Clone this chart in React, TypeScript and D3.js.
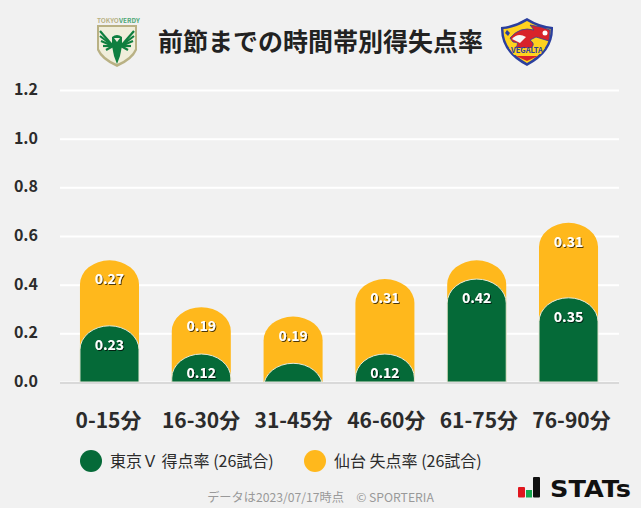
import React, { useEffect, useRef } from 'react';
import { scaleBand, scaleLinear, scalePoint, select, axisLeft, axisBottom } from 'd3';

const categories = ['0-15分', '16-30分', '31-45分', '46-60分', '61-75分', '76-90分'];
const scored = [0.231, 0.115, 0.077, 0.115, 0.423, 0.346];
const conceded = [0.269, 0.192, 0.192, 0.308, 0.077, 0.308];
const yTicks = [0, 0.2, 0.4, 0.6, 0.8, 1.0, 1.2];
const legendLabels = ['東京Ｖ 得点率 (26試合)', '仙台 失点率 (26試合)'];
const title = '前節までの時間帯別得失点率';
const footer = 'データは2023/07/17時点　© SPORTERIA';

const GREEN = '#056a38';
const YELLOW = '#ffb81c';
const BG = '#f1f1f1';
const FONT = '"Noto Sans CJK JP", "Noto Sans", sans-serif';
const W = 641;
const H = 508;
const RY = 24;
const MIN_LABEL = 0.1; // the 0.08 segments carry no label

const App = () => {
  const ref = useRef<SVGSVGElement>(null);

  useEffect(() => {
    const svg = select(ref.current);
    svg.selectAll('*').remove();

    const x = scaleBand<string>().domain(categories).range([60, 618]).paddingInner(0.357).paddingOuter(0.2175);
    // the axis labels sit on a slightly wider pitch than the bars
    const xLabels = scalePoint<string>().domain(categories).range([108, 571]);
    const y = scaleLinear().domain([0, 1.2]).range([382, 90]);
    const bw = x.bandwidth();

    svg.append('rect').attr('width', W).attr('height', H).attr('fill', BG);

    const defs = svg.append('defs');
    defs.append('clipPath').attr('id', 'plot-clip')
      .append('rect').attr('x', 0).attr('y', 0).attr('width', W).attr('height', y(0));
    const shadow = defs.append('filter').attr('id', 'label-shadow').attr('x', '-20%').attr('y', '-20%').attr('width', '140%').attr('height', '140%');
    shadow.append('feDropShadow').attr('dx', 1).attr('dy', 1).attr('stdDeviation', 0.3).attr('flood-color', '#000').attr('flood-opacity', 0.7);

    // grid + y axis
    const yAxis = svg.append('g').attr('transform', 'translate(60,0)')
      .call(axisLeft(y).tickValues(yTicks).tickSize(-559).tickPadding(22).tickFormat((d) => Number(d).toFixed(1)));
    yAxis.select('.domain').remove();
    yAxis.selectAll('line').attr('stroke', '#ffffff').attr('stroke-width', 2);
    yAxis.selectAll('text').attr('fill', '#2b2b2b').attr('font-family', FONT).attr('font-weight', 700).attr('font-size', 16)
      .attr('transform', 'translate(0,-0.5)');

    // baseline + x axis
    const xAxis = svg.append('g').attr('transform', `translate(0,${y(0) + 1})`)
      .call(axisBottom(xLabels).tickSize(0).tickPadding(30));
    xAxis.select('.domain').remove();
    xAxis.selectAll('text').attr('fill', '#2b2b2b').attr('font-family', FONT).attr('font-weight', 700).attr('font-size', 21);
    svg.append('line').attr('x1', 60).attr('x2', 619).attr('y1', y(0) + 1).attr('y2', y(0) + 1)
      .attr('stroke', '#d9d9d9').attr('stroke-width', 2);

    // domed bar, the ellipse is cut by the baseline when the value is small
    const dome = (cat: string, v: number) => {
      const l = x(cat)!;
      const t = y(v);
      return `M${l},${y(0)}V${t + RY}A${bw / 2},${RY} 0 0 1 ${l + bw},${t + RY}V${y(0)}Z`;
    };

    const bars = svg.append('g').attr('clip-path', 'url(#plot-clip)');
    bars.selectAll('path.conceded').data(categories).enter().append('path')
      .attr('class', 'conceded')
      .attr('d', (d, i) => dome(d, scored[i] + conceded[i]))
      .attr('fill', YELLOW);
    bars.selectAll('path.scored').data(categories).enter().append('path')
      .attr('class', 'scored')
      .attr('d', (d, i) => dome(d, scored[i]))
      .attr('fill', GREEN)
      .attr('stroke', '#e8ead8')
      .attr('stroke-width', 1);

    // value labels
    const label = (i: number, v: number, t: number) => {
      if (v < MIN_LABEL) return;
      svg.append('text')
        .attr('x', x(categories[i])! + bw / 2)
        .attr('y', y(t) + 24)
        .attr('text-anchor', 'middle')
        .attr('font-family', FONT)
        .attr('font-weight', 700)
        .attr('font-size', 14)
        .attr('fill', '#fff')
        .attr('filter', 'url(#label-shadow)')
        .text(v.toFixed(2));
    };
    categories.forEach((_, i) => {
      label(i, conceded[i], scored[i] + conceded[i]);
      label(i, scored[i], scored[i]);
    });

    // title
    svg.append('text').attr('x', 320.5).attr('y', 51).attr('text-anchor', 'middle')
      .attr('font-family', FONT).attr('font-weight', 700).attr('font-size', 25).attr('fill', '#222').text(title);

    // legend
    const legendX = [91, 315];
    legendLabels.forEach((t, i) => {
      svg.append('circle').attr('cx', legendX[i]).attr('cy', 461).attr('r', 11).attr('fill', i === 0 ? GREEN : YELLOW);
      svg.append('text').attr('x', legendX[i] + 19).attr('y', 467).attr('font-family', FONT)
        .attr('font-size', 16).attr('fill', '#2b2b2b').text(t);
    });

    // footer
    svg.append('text').attr('x', 320.5).attr('y', 502).attr('text-anchor', 'middle').attr('font-family', FONT)
      .attr('font-size', 12.2).attr('fill', '#999').text(footer);

    // STATs logo
    const logo = svg.append('g');
    logo.append('rect').attr('x', 518).attr('y', 487).attr('width', 7).attr('height', 10.5).attr('rx', 1).attr('fill', '#e0161e');
    logo.append('rect').attr('x', 526).attr('y', 490).attr('width', 6).attr('height', 7.5).attr('fill', '#16a84f');
    logo.append('rect').attr('x', 533).attr('y', 477).attr('width', 7).attr('height', 20.5).attr('rx', 1).attr('fill', '#111');
    logo.append('text').attr('x', 550).attr('y', 497).attr('font-family', '"DejaVu Sans", sans-serif').attr('font-weight', 700)
      .attr('font-size', 23).attr('textLength', 81).attr('lengthAdjust', 'spacingAndGlyphs').attr('fill', '#111').text('STATs');

    // Verdy crest
    const verdy = svg.append('g');
    verdy.append('text').attr('x', 97).attr('y', 23).attr('font-family', FONT).attr('font-size', 6.5).attr('font-weight', 700)
      .attr('fill', '#b9b184').text('TOKYO');
    verdy.append('text').attr('x', 119).attr('y', 23).attr('font-family', FONT).attr('font-size', 6.5).attr('font-weight', 700)
      .attr('fill', '#4fa877').text('VERDY');
    verdy.append('path').attr('d', 'M97,25H137V50Q133,60 117,67Q101,60 97,50Z').attr('fill', '#b9b184');
    verdy.append('path').attr('d', 'M99,27H135V49Q131,58 117,64Q103,58 99,49Z').attr('fill', '#f0eedb');
    const feathers = [[100, 31], [100, 36], [101, 41], [103, 46], [106, 50], [134, 31], [134, 36], [133, 41], [131, 46], [128, 50]];
    verdy.append('g').selectAll('line').data(feathers).enter().append('line')
      .attr('x1', (d) => d[0]).attr('y1', (d) => d[1])
      .attr('x2', (d) => (d[0] < 117 ? 113 : 121)).attr('y2', 46)
      .attr('stroke', '#0f7f3f').attr('stroke-width', 2.2);
    verdy.append('path').attr('d', 'M112,37Q117,33 122,37L122,46L120,56L117,64L114,56L112,46Z').attr('fill', '#0f7f3f');
    verdy.append('path').attr('d', 'M114,38L120,38L117,42Z').attr('fill', '#f0eedb');

    // Vegalta crest
    const vegalta = svg.append('g');
    vegalta.append('path').attr('d', 'M501,27Q514,26 527,18Q540,26 553,27Q554,52 527,66Q500,52 501,27Z').attr('fill', '#2b3f9e');
    vegalta.append('path').attr('d', 'M503.5,29Q515,28 527,21Q539,28 550.5,29Q551,50 527,63Q503,50 503.5,29Z').attr('fill', '#ffd21f');
    vegalta.append('path').attr('d', 'M510,38Q520,26 534,30L530,25L541,27L550,30L549,41L536,37L530,40Q536,44 531,48L515,48Q521,42 513,42Z')
      .attr('fill', '#d8232a').attr('stroke', '#2b3f9e').attr('stroke-width', 0.8);
    vegalta.append('path').attr('d', 'M512,39Q518,32 526,37L520,43Z').attr('fill', '#f6f6f6');
    vegalta.append('path').attr('d', 'M509,48H545L541,54L514,55Z').attr('fill', '#ffd21f');
    vegalta.append('path').attr('d', 'M516,56H538L527,61Z').attr('fill', '#d8232a');
    vegalta.append('circle').attr('cx', 545).attr('cy', 33).attr('r', 2.5).attr('fill', '#fff');
    vegalta.append('path').attr('d', 'M507,30L510,33L508,36L505,33Z').attr('fill', '#2b3f9e');
    vegalta.append('text').attr('x', 527).attr('y', 53).attr('text-anchor', 'middle').attr('font-family', FONT)
      .attr('font-size', 7.5).attr('font-weight', 700).attr('fill', '#2b3f9e').text('VEGALTA');
  }, []);

  return <svg ref={ref} width={W} height={H} style={{ position: 'absolute', left: 0, top: 0 }} />;
};

export default App;
